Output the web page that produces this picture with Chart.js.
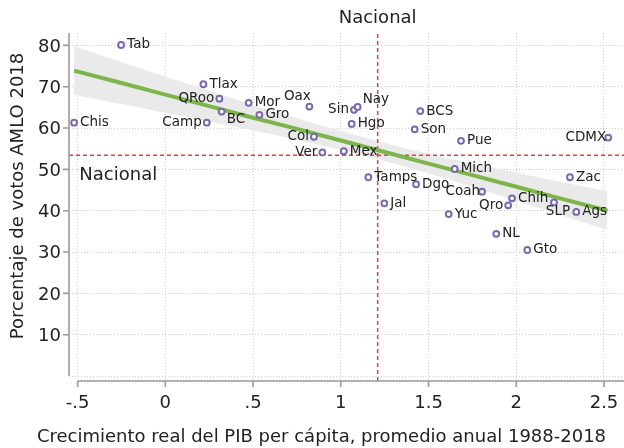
<!DOCTYPE html>
<html>
<head>
<meta charset="utf-8">
<script src="https://cdn.jsdelivr.net/npm/chart.js@4"></script>
<style>
  html, body { margin: 0; padding: 0; background: #ffffff; }
  canvas { display: block; }
</style>
</head>
<body>
<canvas id="c" width="624" height="448" style="width:624px;height:448px"></canvas>
<script>
// ---- data ----
const states = ['Tab','Chis','Tlax','QRoo','BC','Camp','Mor','Gro','Oax','Sin','Nay','Hgo','BCS','Son','Col','Ver','Mex','Pue','CDMX','Mich','Zac','Coah','Chih','Qro','SLP','Ags','Yuc','NL','Gto','Tamps','Dgo','Jal'];
const growth = [-0.252,-0.52,0.217,0.308,0.321,0.236,0.475,0.536,0.821,1.075,1.096,1.062,1.453,1.421,0.847,0.895,1.017,1.685,2.524,1.649,2.306,1.805,1.976,1.954,2.215,2.342,1.615,1.886,2.063,1.157,1.429,1.248];
const votes = [80.1,61.3,70.6,67.1,64.0,61.3,66.1,63.2,65.2,64.4,65.1,61.0,64.1,59.7,57.9,54.1,54.4,56.9,57.7,50.1,48.1,44.6,43.0,41.3,42.0,39.7,39.2,34.4,30.5,48.1,46.4,41.8];
const labelClock = ['r','r','r','l','se','l','r','r','nw','l','ne','r','r','r','l','l','r','r','lc','r','r','lc','r','l','s','r','r','r','r','r','r','r'];

const fitX = [-0.52,-0.25,0,0.25,0.5,0.75,1.0,1.25,1.5,1.75,2.0,2.25,2.52];
const fitY = [73.9,70.9,68.1,65.3,62.5,59.8,57.0,54.2,51.4,48.6,45.8,43.0,40.0];
const ciUpper = [79.8,76.0,72.5,69.0,65.6,62.4,59.3,56.4,53.8,51.4,49.2,47.0,44.7];
const ciLower = [68.0,65.8,63.7,61.6,59.4,57.2,54.7,52.0,49.0,45.8,42.4,39.0,35.3];

const nationalGrowth = 1.21;
const nationalVote = 53.4;

const xTicks = [-0.5,0,0.5,1,1.5,2,2.5];
const xTickLabels = ['-.5','0','.5','1','1.5','2','2.5'];
const yTicks = [0,10,20,30,40,50,60,70,80];
const yTickLabels = ['','10','20','30','40','50','60','70','80'];

const xTitle = 'Crecimiento real del PIB per cápita, promedio anual 1988-2018';
const yTitle = 'Porcentaje de votos AMLO 2018';
const natLabel = 'Nacional';

const xMin = -0.549, xMax = 2.614, yMin = -1.2, yMax = 83;

// ---- styling ----
const FONT = '"DejaVu Sans", Verdana, sans-serif';
const TXT = '#222222';
const PURPLE = '#7a68b0';
const GREEN = '#7db54a';
const RED = '#d9443f';
const GRID = '#cdcdcd';
const AXIS = '#9a9a9a';

const pts = growth.map((g, i) => ({x: g, y: votes[i]}));
const fitPts = fitX.map((v, i) => ({x: v, y: fitY[i]}));
const upPts = fitX.map((v, i) => ({x: v, y: ciUpper[i]}));
const loPts = fitX.map((v, i) => ({x: v, y: ciLower[i]}));

const decor = {
  id: 'decor',
  afterDatasetsDraw(chart) {
    const {ctx} = chart;
    ctx.save();
    ctx.font = '13.5px ' + FONT;
    ctx.fillStyle = TXT;
    ctx.textBaseline = 'middle';
    const meta = chart.getDatasetMeta(0);
    meta.data.forEach((el, i) => {
      const px = el.x, py = el.y, t = states[i];
      switch (labelClock[i]) {
        case 'r': ctx.textAlign = 'left'; ctx.fillText(t, px + 6, py); break;
        case 'l': ctx.textAlign = 'right'; ctx.fillText(t, px - 5, py); break;
        case 'lc': ctx.textAlign = 'right'; ctx.fillText(t, px - 2, py); break;
        case 'se': ctx.textAlign = 'left'; ctx.fillText(t, px + 5, py + 7.5); break;
        case 'ne': ctx.textAlign = 'left'; ctx.fillText(t, px + 5, py - 7.5); break;
        case 'nw': ctx.textAlign = 'center'; ctx.fillText(t, px - 12, py - 10); break;
        case 's': ctx.textAlign = 'center'; ctx.fillText(t, px + 4, py + 9.5); break;
      }
    });
    ctx.restore();
  },
  afterDraw(chart) {
    const {ctx, chartArea: ca, scales: {x, y}} = chart;
    ctx.save();
    ctx.strokeStyle = AXIS;
    ctx.lineWidth = 1.6;
    ctx.setLineDash([]);
    ctx.beginPath();
    const y0 = y.getPixelForValue(yTicks[0]);
    ctx.moveTo(ca.left, ca.top); ctx.lineTo(ca.left, y0);
    yTicks.forEach((v, i) => {
      if (!yTickLabels[i]) return;
      const py = y.getPixelForValue(v);
      ctx.moveTo(ca.left - 6, py); ctx.lineTo(ca.left, py);
    });
    const xs = x.getPixelForValue(xTicks[0]);
    ctx.moveTo(xs, ca.bottom); ctx.lineTo(ca.right, ca.bottom);
    xTicks.forEach(v => {
      const px = x.getPixelForValue(v);
      ctx.moveTo(px, ca.bottom); ctx.lineTo(px, ca.bottom + 6);
    });
    ctx.stroke();

    ctx.fillStyle = TXT;
    ctx.font = '18px ' + FONT;
    ctx.textAlign = 'center';
    ctx.textBaseline = 'middle';
    ctx.fillText(xTitle, 321.5, 437);
    ctx.save();
    ctx.translate(18, 196);
    ctx.rotate(-Math.PI / 2);
    ctx.fillText(yTitle, 0, 0);
    ctx.restore();

    ctx.textAlign = 'center';
    ctx.fillText(natLabel, x.getPixelForValue(nationalGrowth), 18);
    ctx.textAlign = 'left';
    ctx.fillText(natLabel, x.getPixelForValue(-0.49), y.getPixelForValue(48.6));
    ctx.restore();
  }
};

new Chart(document.getElementById('c'), {
  type: 'scatter',
  data: {
    datasets: [
      { data: pts, pointRadius: 2.9, pointBorderWidth: 2, pointBorderColor: PURPLE,
        pointBackgroundColor: '#ffffff', showLine: false },
      { data: fitPts, showLine: true, borderColor: GREEN, borderWidth: 4, pointRadius: 0, fill: false, tension: 0 },
      { data: [{x: nationalGrowth, y: yMin}, {x: nationalGrowth, y: yMax}], showLine: true,
        borderColor: RED, borderWidth: 1.5, borderDash: [4, 3], pointRadius: 0, fill: false },
      { data: [{x: xMin, y: nationalVote}, {x: xMax, y: nationalVote}], showLine: true,
        borderColor: RED, borderWidth: 1.5, borderDash: [4, 3], pointRadius: 0, fill: false },
      { data: upPts, showLine: true, borderWidth: 0, borderColor: 'rgba(0,0,0,0)', pointRadius: 0,
        fill: '+1', backgroundColor: '#eaeaea', tension: 0.3 },
      { data: loPts, showLine: true, borderWidth: 0, borderColor: 'rgba(0,0,0,0)', pointRadius: 0,
        fill: false, tension: 0.3 }
    ]
  },
  options: {
    responsive: false,
    animation: false,
    events: [],
    layout: { autoPadding: false, padding: { top: 33, left: 0, right: 0, bottom: 0 } },
    plugins: { legend: { display: false }, tooltip: { enabled: false }, title: { display: false } },
    scales: {
      x: {
        type: 'linear', min: xMin, max: xMax,
        afterBuildTicks: s => { s.ticks = xTicks.map(v => ({value: v})); },
        afterFit: s => { s.height = 67; s.paddingLeft = 0; s.paddingRight = 0; },
        ticks: {
          padding: 12, color: TXT, font: { family: FONT, size: 18 },
          callback: (v) => { const i = xTicks.indexOf(v); return i >= 0 ? xTickLabels[i] : ''; },
          maxRotation: 0, autoSkip: false
        },
        grid: { color: GRID, lineWidth: 1, drawTicks: false },
        border: { display: false, dash: [1, 2] }
      },
      y: {
        type: 'linear', min: yMin, max: yMax,
        afterBuildTicks: s => { s.ticks = yTicks.map(v => ({value: v})); },
        afterFit: s => { s.width = 69; s.paddingTop = 0; s.paddingBottom = 0; },
        ticks: {
          padding: 8, labelOffset: 1.5, color: TXT, font: { family: FONT, size: 18 },
          callback: (v) => { const i = yTicks.indexOf(v); return i >= 0 ? yTickLabels[i] : ''; },
          autoSkip: false
        },
        grid: { color: GRID, lineWidth: 1, drawTicks: false },
        border: { display: false, dash: [1, 2] }
      }
    }
  },
  plugins: [decor]
});
</script>
</body>
</html>
